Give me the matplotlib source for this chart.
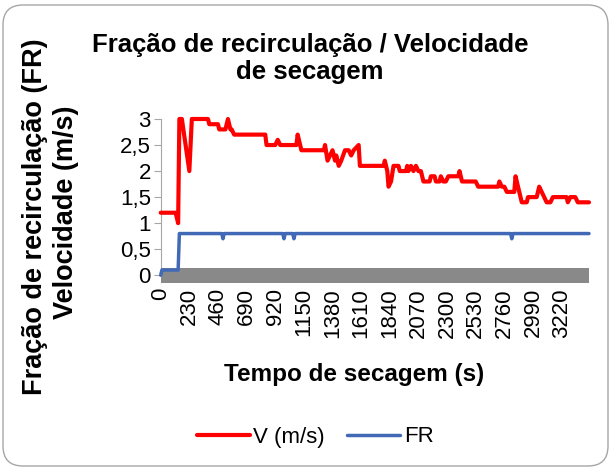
import matplotlib
matplotlib.use("Agg")
import matplotlib.pyplot as plt
from matplotlib.patches import FancyBboxPatch
from matplotlib.transforms import IdentityTransform

plt.rcParams['font.family'] = ['Liberation Sans', 'DejaVu Sans']

# ---- data ----
v_time = [0, 120, 140, 150, 170, 200, 230, 250, 380, 390,
          460, 470, 520, 540, 560, 570, 590, 840, 850, 920,
          940, 960, 1090, 1100, 1130, 1310, 1320, 1340, 1380, 1400,
          1410, 1430, 1450, 1480, 1510, 1530, 1550, 1590, 1600, 1790,
          1800, 1820, 1830, 1850, 1870, 1910, 1920, 1970, 1980, 1990,
          2010, 2030, 2050, 2070, 2090, 2110, 2160, 2170, 2200, 2210,
          2240, 2250, 2270, 2290, 2310, 2390, 2400, 2420, 2530, 2550,
          2710, 2720, 2740, 2760, 2780, 2840, 2850, 2870, 2900, 2940,
          2950, 3020, 3040, 3060, 3080, 3100, 3130, 3150, 3260, 3270,
          3290, 3330, 3350, 3440]
v_vals = [1.2, 1.2, 1.0, 3.0, 3.0, 2.5, 2.0, 3.0, 3.0, 2.9,
          2.9, 2.8, 2.8, 3.0, 2.8, 2.8, 2.7, 2.7, 2.5, 2.5,
          2.6, 2.5, 2.5, 2.7, 2.4, 2.4, 2.5, 2.2, 2.4, 2.2,
          2.3, 2.1, 2.2, 2.4, 2.4, 2.3, 2.4, 2.5, 2.1, 2.1,
          2.2, 2.0, 1.7, 1.8, 2.1, 2.1, 2.0, 2.0, 2.1, 2.0,
          2.1, 2.0, 2.1, 2.0, 2.0, 1.8, 1.8, 1.9, 1.9, 1.8,
          1.8, 1.9, 1.8, 1.8, 1.9, 1.9, 2.0, 1.8, 1.8, 1.7,
          1.7, 1.8, 1.7, 1.7, 1.6, 1.6, 1.9, 1.7, 1.4, 1.4,
          1.5, 1.5, 1.7, 1.6, 1.5, 1.4, 1.4, 1.5, 1.5, 1.4,
          1.5, 1.5, 1.4, 1.4]

fr_time = [0, 10, 140, 150, 490, 500, 510, 980, 990, 1000,
           1060, 1070, 1080, 2810, 2820, 2830, 3440]
fr_vals = [0.0, 0.1, 0.1, 0.8, 0.8, 0.7, 0.8, 0.8, 0.7, 0.8,
           0.8, 0.7, 0.8, 0.8, 0.7, 0.8, 0.8]

x_ticks = list(range(0, 3221, 230))
y_ticks = [0, 0.5, 1, 1.5, 2, 2.5, 3]
y_tick_labels = ['0', '0,5', '1', '1,5', '2', '2,5', '3']

title_lines = ['Fração de recirculação / Velocidade', 'de secagem']
ylabel_lines = ['Fração de recirculação (FR)', 'Velocidade (m/s)']
xlabel = 'Tempo de secagem (s)'
series_names = ['V (m/s)', 'FR']

W, H = 612, 470
fig = plt.figure(figsize=(W / 100, H / 100), dpi=100)
fig.patch.set_facecolor('white')

# rounded chart border
border = FancyBboxPatch((3, 4), 605, 461,
                        boxstyle="round,pad=0,rounding_size=20",
                        transform=IdentityTransform(),
                        facecolor='none', edgecolor='#a6a6a6', lw=1.0)
fig.add_artist(border)

left, right = 160.7, 589.0
top, bottom = 119.0, 282.5
ax = fig.add_axes([left / W, 1 - bottom / H, (right - left) / W, (bottom - top) / H])
ax.set_xlim(0, 3440)
ax.set_ylim(-0.14, 3.0)

# grey floor band
ax.axhspan(-0.14, 0.13, color='#898989', zorder=1, lw=0)

l1, = ax.plot(v_time, v_vals, color='#ff0000', lw=3.0, zorder=4,
              clip_on=False, solid_joinstyle='round', solid_capstyle='round')
l2, = ax.plot(fr_time, fr_vals, color='#4169b5', lw=2.5, zorder=3,
              clip_on=False, solid_joinstyle='round', solid_capstyle='round')

for s in ['top', 'right', 'bottom']:
    ax.spines[s].set_visible(False)
ax.spines['left'].set_color('#a6a6a6')
ax.spines['left'].set_bounds(0, 3)
ax.spines['left'].set_zorder(0)

ax.set_yticks(y_ticks)
ax.set_yticklabels(y_tick_labels)
ax.tick_params(axis='y', direction='out', length=5, color='#a6a6a6',
               labelsize=16, pad=2)
ax.set_xticks(x_ticks)
ax.set_xticklabels([str(v) for v in x_ticks], rotation=90)
ax.tick_params(axis='x', length=0, labelsize=16, pad=4)
for lab in ax.get_xticklabels():
    lab.set_verticalalignment('top')

# titles
fig.text(310 / W, 1 - 45 / H, title_lines[0], ha='center', va='center',
         fontsize=18.5, fontweight='bold')
fig.text(310 / W, 1 - 72 / H, title_lines[1], ha='center', va='center',
         fontsize=18.5, fontweight='bold')
fig.text(35 / W, 1 - 217 / H, ylabel_lines[0], ha='center', va='center',
         rotation=90, fontsize=19.5, fontweight='bold')
fig.text(66 / W, 1 - 212 / H, ylabel_lines[1], ha='center', va='center',
         rotation=90, fontsize=19.5, fontweight='bold')
fig.text(354 / W, 1 - 375 / H, xlabel, ha='center', va='center',
         fontsize=17.5, fontweight='bold')

fig.legend([l1, l2], series_names, loc='center',
           bbox_to_anchor=(315 / W, 1 - 437 / H), ncol=2, frameon=False,
           fontsize=16, handlelength=2.4, handletextpad=0.15,
           columnspacing=1.0)

fig.savefig('out.png', dpi=100)
